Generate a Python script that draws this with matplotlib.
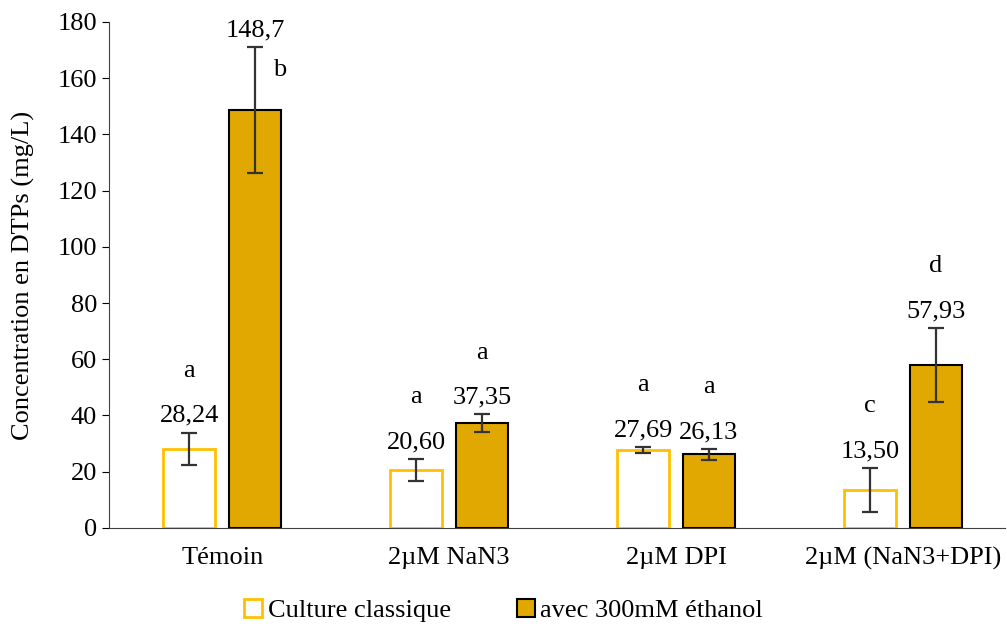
import numpy as np
import matplotlib.pyplot as plt
from matplotlib.patches import Patch

plt.rcParams['font.family'] = ['Liberation Serif', 'DejaVu Serif']

categories = ["Témoin", "2µM NaN3", "2µM DPI", "2µM (NaN3+DPI)"]
classic = [28.24, 20.60, 27.69, 13.50]
ethanol = [148.7, 37.35, 26.13, 57.93]
classic_err = [5.7, 3.9, 1.2, 7.9]
ethanol_err = [22.5, 3.1, 2.0, 13.2]
classic_labels = ["28,24", "20,60", "27,69", "13,50"]
ethanol_labels = ["148,7", "37,35", "26,13", "57,93"]
classic_letters = ["a", "a", "a", "c"]
ethanol_letters = ["b", "a", "a", "d"]


def main():
    fig = plt.figure(figsize=(10.07, 6.27), dpi=100)
    ax = fig.add_axes([0.108, 0.158, 0.89, 0.807])
    x = np.arange(len(categories))
    w = 0.23
    off = 0.145

    ax.bar(x - off, classic, w, color='white', edgecolor='#FFC000', linewidth=2,
           label='Culture classique', zorder=2)
    ax.bar(x + off, ethanol, w, color='#E0A800', edgecolor='black', linewidth=1.5,
           label='avec 300mM éthanol', zorder=2)
    ax.errorbar(x - off, classic, yerr=classic_err, fmt='none', ecolor='#333333',
                elinewidth=1.6, capsize=6, capthick=1.6, zorder=3)
    ax.errorbar(x + off, ethanol, yerr=ethanol_err, fmt='none', ecolor='#333333',
                elinewidth=1.6, capsize=6, capthick=1.6, zorder=3)

    fs = 19
    for i in range(len(categories)):
        ax.text(x[i] - off, classic[i] + classic_err[i] + 2, classic_labels[i],
                ha='center', va='bottom', fontsize=fs)
        ax.text(x[i] + off, ethanol[i] + ethanol_err[i] + 2, ethanol_labels[i],
                ha='center', va='bottom', fontsize=fs)
        ax.text(x[i] - off, classic[i] + classic_err[i] + 18, classic_letters[i],
                ha='center', va='bottom', fontsize=fs)
        if i == 0:
            ax.text(x[i] + off + 0.11, 159, ethanol_letters[i],
                    ha='center', va='bottom', fontsize=fs)
        else:
            ax.text(x[i] + off, ethanol[i] + ethanol_err[i] + 18, ethanol_letters[i],
                    ha='center', va='bottom', fontsize=fs)

    ax.set_xlim(-0.5, 3.45)
    ax.set_ylim(0, 180)
    ax.set_yticks(range(0, 181, 20))
    ax.set_xticks(x)
    ax.set_xticklabels(categories, fontsize=fs)
    ax.tick_params(axis='x', length=0, pad=14)
    ax.tick_params(axis='y', labelsize=fs, length=5, direction='out')
    ax.set_ylabel('Concentration en DTPs (mg/L)', fontsize=fs, labelpad=16)
    for s in ['top', 'right']:
        ax.spines[s].set_visible(False)
    ax.spines['left'].set_color('#404040')
    ax.spines['bottom'].set_color('#404040')

    handles = [Patch(facecolor='white', edgecolor='#FFC000', linewidth=2),
               Patch(facecolor='#E0A800', edgecolor='black', linewidth=1.5)]
    fig.legend(handles, ['Culture classique', 'avec 300mM éthanol'], loc='lower center',
               bbox_to_anchor=(0.5, -0.03), ncol=2, frameon=False, fontsize=fs,
               handlelength=0.7, handleheight=0.7, handletextpad=0.2, columnspacing=2.5)

    fig.savefig('out.png', dpi=100)


if __name__ == '__main__':
    main()
